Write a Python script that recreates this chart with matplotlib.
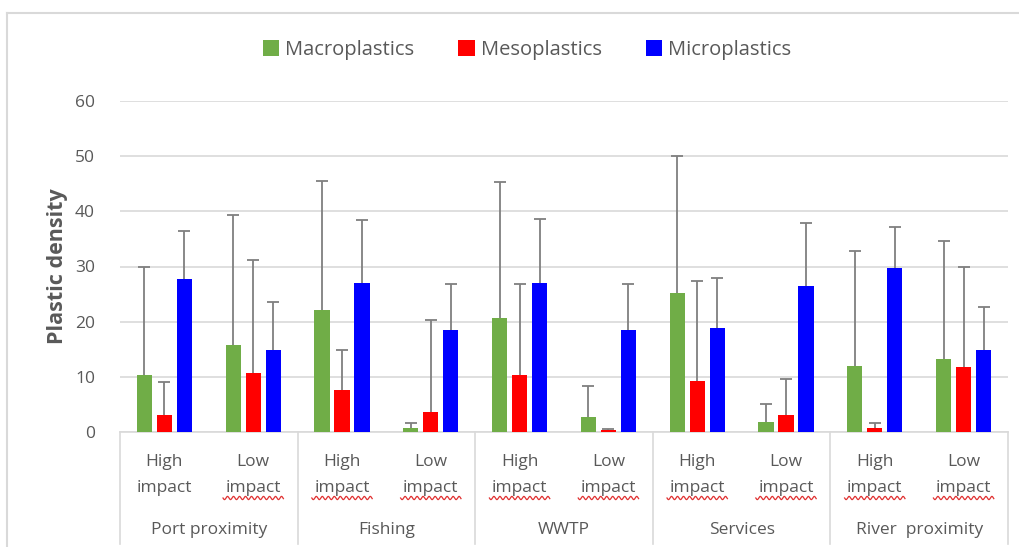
import numpy as np
import matplotlib.pyplot as plt
import matplotlib.transforms as mtransforms
from matplotlib.lines import Line2D
from matplotlib.patches import Patch

plt.rcParams['font.family'] = ['Open Sans', 'DejaVu Sans']

# Data: mean plastic density and upper error (top of the whisker) per site
groups = ["Port proximity", "Fishing", "WWTP", "Services", "River  proximity"]
levels = ["High\nimpact", "Low\nimpact"]

macro = [10.4, 15.8, 22.2, 0.8, 20.6, 2.8, 25.2, 1.8, 12.0, 13.2]
meso = [3.1, 10.7, 7.7, 3.6, 10.4, 0.3, 9.2, 3.1, 0.8, 11.7]
micro = [27.8, 14.8, 27.0, 18.4, 27.0, 18.4, 18.8, 26.5, 29.8, 14.8]

macro_top = [30.0, 39.4, 45.5, 1.7, 45.3, 8.3, 50.1, 5.0, 32.8, 34.6]
meso_top = [9.1, 31.2, 14.9, 20.3, 26.9, 0.5, 27.4, 9.6, 1.7, 30.0]
micro_top = [36.4, 23.6, 38.4, 26.9, 38.6, 26.9, 28.0, 37.9, 37.1, 22.6]

series = [
    ("Macroplastics", macro, macro_top, "#70ad47"),
    ("Mesoplastics", meso, meso_top, "#ff0000"),
    ("Microplastics", micro, micro_top, "#0000ff"),
]

text_color = "#595959"
grid_color = "#d9d9d9"
err_color = "#7f7f7f"

fig = plt.figure(figsize=(10.2, 5.47), dpi=100)
ax = fig.add_axes([120 / 1020, 1 - 432 / 547, 888 / 1020, 331 / 547])

n = len(macro)
x = np.arange(n)
step = 0.225
width = 0.17
cap = 0.068

for i, (name, vals, tops, color) in enumerate(series):
    pos = x + (i - 1) * step
    ax.bar(pos, vals, width, color=color, zorder=3)
    # plus-only error bars: whisker up from the bar with a cap on top
    ax.vlines(pos, vals, tops, color=err_color, lw=1.3, zorder=4)
    ax.hlines(tops, pos - cap, pos + cap, color=err_color, lw=1.3, zorder=4)

ax.set_xlim(-0.5, n - 0.5)
ax.set_ylim(0, 60)
ax.set_yticks(np.arange(0, 61, 10))
ax.yaxis.grid(True, color=grid_color, linewidth=1.2, zorder=0)
ax.set_axisbelow(True)
for s in ["top", "right", "left"]:
    ax.spines[s].set_visible(False)
ax.spines["bottom"].set_color(grid_color)
ax.spines["bottom"].set_linewidth(1.2)
ax.tick_params(axis="y", length=0, pad=18, labelsize=12.5, labelcolor=text_color)
ax.tick_params(axis="x", length=0, labelbottom=False)

ax.set_ylabel("Plastic density", fontsize=15.5, fontweight="bold",
              color=text_color, labelpad=5)

# Two-level category axis below the plot
blend = mtransforms.blended_transform_factory(ax.transData, fig.transFigure)
for k in range(n):
    ax.text(x[k], 1 - 475 / 547, levels[k % 2], transform=blend,
            ha="center", va="center", fontsize=12.5, color=text_color,
            linespacing=1.9)
    if k > 0:
        # spell-check squiggle under "impact"
        xs = np.linspace(x[k] - 0.34, x[k] + 0.34, 200)
        ys = 1 - (498 + 1.6 * np.sin((xs - xs[0]) * 88.8 * 2 * np.pi / 6)) / 547
        ax.plot(xs, ys, transform=blend, color="#e03030", lw=0.9,
                clip_on=False)

for g, name in enumerate(groups):
    ax.text(2 * g + 0.5, 1 - 530 / 547, name, transform=blend,
            ha="center", va="center", fontsize=12.5, color=text_color)

for b in np.arange(-0.5, n, 2):
    ax.add_line(Line2D([b, b], [1 - 432 / 547, 1 - 544 / 547],
                       transform=blend, color=grid_color, lw=1.2,
                       clip_on=False))

# Outer chart frame
fig.add_artist(Line2D([7 / 1020, 1], [1 - 13 / 547, 1 - 13 / 547],
                      transform=fig.transFigure, color=grid_color, lw=1.5))
fig.add_artist(Line2D([7 / 1020, 7 / 1020], [0, 1 - 13 / 547],
                      transform=fig.transFigure, color=grid_color, lw=1.5))

handles = [Patch(facecolor=c, label=nm) for nm, _, _, c in series]
fig.legend(handles=handles, loc="center", bbox_to_anchor=(527 / 1020, 1 - 50 / 547),
           ncol=3, frameon=False, fontsize=14.5, labelcolor=text_color,
           handlelength=0.8, handleheight=0.8, handletextpad=0.3,
           columnspacing=2.2)

fig.savefig("out.png", dpi=100, facecolor="white")
